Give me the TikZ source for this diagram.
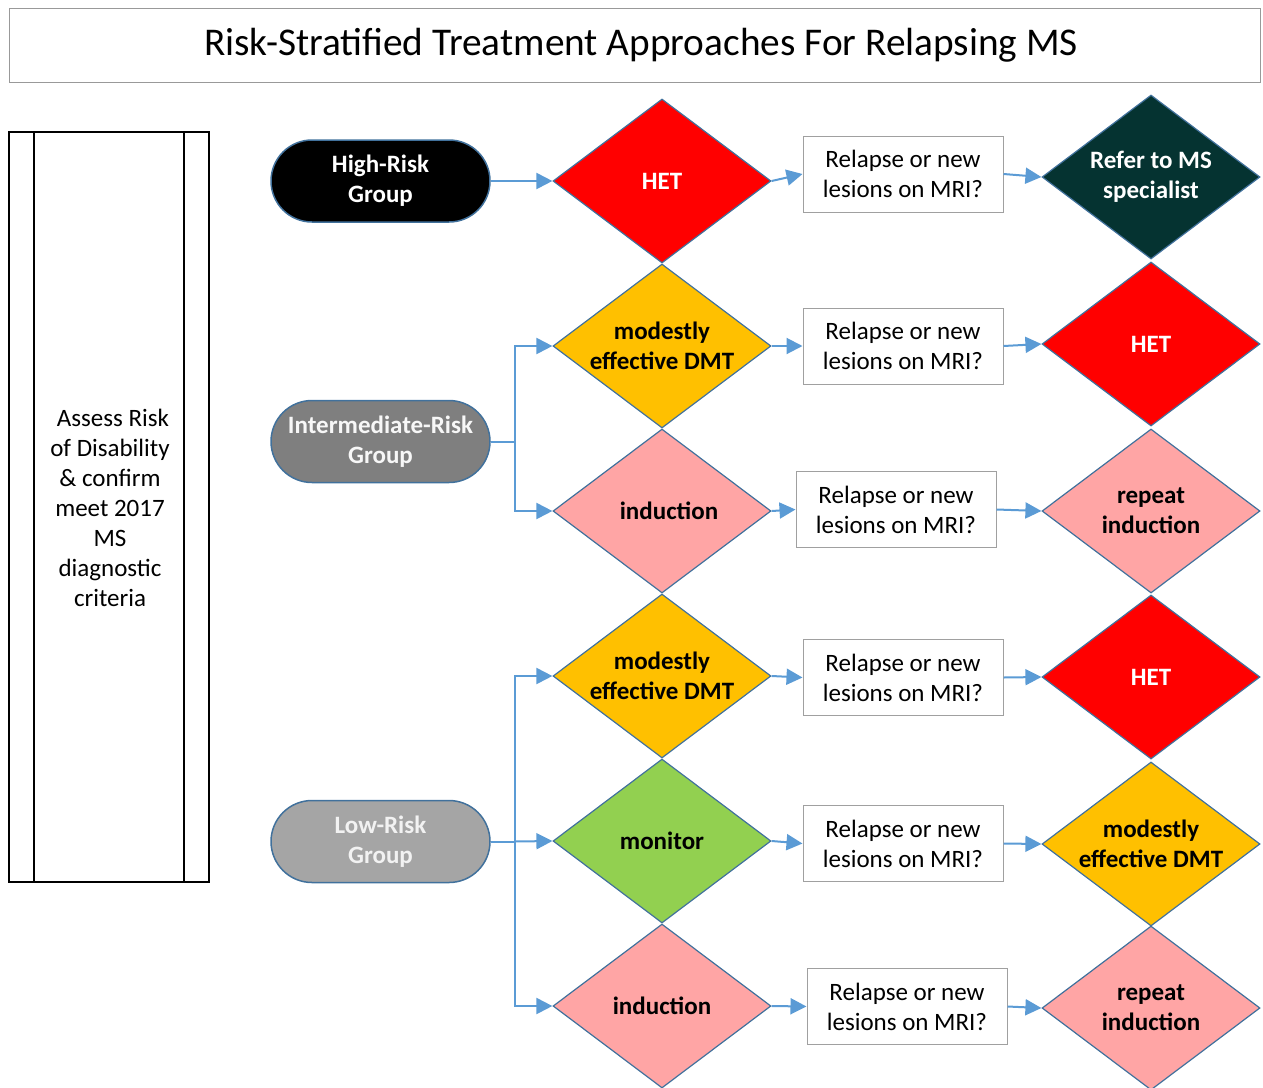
\documentclass[tikz,border=0pt]{standalone}
\usepackage{fontspec}
\setmainfont{Carlito}
\usetikzlibrary{shapes.geometric,arrows.meta}
\definecolor{arrblue}{HTML}{5B9BD5}
\definecolor{edgeblue}{HTML}{41719C}
\definecolor{hetred}{HTML}{FF0000}
\definecolor{dmtorange}{HTML}{FFC000}
\definecolor{indpink}{HTML}{FFA5A5}
\definecolor{mongreen}{HTML}{92D050}
\definecolor{refteal}{HTML}{053331}
\definecolor{midgray}{HTML}{7F7F7F}
\definecolor{lowgray}{HTML}{A5A5A5}
\definecolor{boxgray}{HTML}{A0A0A0}
\tikzset{
  txt/.style={font=\fontsize{25}{30}\selectfont, align=center},
  btxt/.style={font=\fontsize{25}{30}\selectfont\bfseries, align=center},
  dia/.style={shape=diamond, draw=edgeblue, line width=1.2pt, minimum width=218pt, minimum height=164pt, inner sep=0pt},
  term/.style={draw=edgeblue, line width=1.5pt, rounded corners=41pt, minimum width=219pt, minimum height=82pt, inner sep=0pt, btxt},
  qbox/.style={draw=boxgray, line width=1pt, fill=white, minimum width=200pt, minimum height=76pt, inner sep=0pt, txt},
  arr/.style={draw=arrblue, line width=2pt, -{Triangle[length=16pt,width=16pt]}},
  ln/.style={draw=arrblue, line width=2pt}
}
\begin{document}
\begin{tikzpicture}[x=1pt,y=1pt]
\useasboundingbox (0,0) rectangle (1263,-1087);
% title
\node[draw=gray!80, line width=1pt, minimum width=1251pt, minimum height=74pt, inner sep=0pt] (titlebox) at (634.5,-45) {};
\node[font=\fontsize{39.3}{42}\selectfont, inner sep=0pt] (title) at (641,-45) {Risk-Stratified Treatment Approaches For Relapsing MS};
% left box
\node[draw=black, line width=1.5pt, minimum width=200pt, minimum height=750pt, inner sep=0pt] (left) at (109,-507) {};
\draw[line width=1.5pt] (34,-132) -- (34,-882) (184,-132) -- (184,-882);
\node[txt] (lefttext) at (110,-508) {\hspace*{6pt}Assess Risk\\of Disability\\\& confirm\\meet 2017\\MS\\diagnostic\\criteria};
% groups
\node[term, fill=black, text=white] (HR) at (380.5,-181) {High-Risk\\Group};
\node[term, fill=midgray, text=white!97!black] (IR) at (380.5,-441.5) {Intermediate-Risk\\Group};
\node[term, fill=lowgray, text=white!95!black] (LR) at (380.5,-841.5) {Low-Risk\\Group};
% first column diamonds
\node[dia, fill=hetred] (d11) at (662,-181) {};
\node[btxt, text=white] (t11) at (d11) {HET};
\node[dia, fill=dmtorange] (d21) at (662,-346) {};
\node[btxt] (t21) at (d21) {modestly\\effective DMT};
\node[dia, fill=indpink] (d31) at (662,-511) {};
\node[btxt] (t31) at (669,-511) {induction};
\node[dia, fill=dmtorange] (d41) at (662,-676) {};
\node[btxt] (t41) at (d41) {modestly\\effective DMT};
\node[dia, fill=mongreen] (d51) at (662,-841) {};
\node[btxt] (t51) at (d51) {monitor};
\node[dia, fill=indpink] (d61) at (662,-1006) {};
\node[btxt] (t61) at (d61) {induction};
% boxes
\node[qbox] (b1) at (903,-174) {Relapse or new\\lesions on MRI?};
\node[qbox] (b2) at (903,-346) {Relapse or new\\lesions on MRI?};
\node[qbox] (b3) at (896,-509.5) {Relapse or new\\lesions on MRI?};
\node[qbox] (b4) at (903,-677.5) {Relapse or new\\lesions on MRI?};
\node[qbox] (b5) at (903,-843.5) {Relapse or new\\lesions on MRI?};
\node[qbox] (b6) at (907,-1006.5) {Relapse or new\\lesions on MRI?};
% third column diamonds
\node[dia, fill=refteal] (d13) at (1151,-177) {};
\node[btxt, text=white] (t13) at (d13) {Refer to MS\\specialist};
\node[dia, fill=hetred] (d23) at (1151,-344) {};
\node[btxt, text=white] (t23) at (d23) {HET};
\node[dia, fill=indpink] (d33) at (1151,-511) {};
\node[btxt] (t33) at (d33) {repeat\\induction};
\node[dia, fill=hetred] (d43) at (1151,-677) {};
\node[btxt, text=white] (t43) at (d43) {HET};
\node[dia, fill=dmtorange] (d53) at (1151,-844) {};
\node[btxt] (t53) at (d53) {modestly\\effective DMT};
\node[dia, fill=indpink] (d63) at (1151,-1008) {};
\node[btxt] (t63) at (d63) {repeat\\induction};
% connectors high risk
\draw[arr] (HR.east) -- (d11.west);
% intermediate
\coordinate (j2) at (515,-441.5);
\draw[ln] (IR.east) -- (j2);
\draw[arr] (j2) |- (d21.west);
\draw[arr] (j2) |- (d31.west);
% low
\coordinate (j3) at (515,-841.5);
\draw[ln] (LR.east) -- (j3);
\draw[arr] (j3) |- (d41.west);
\draw[arr] (j3) -- (d51.west);
\draw[arr] (j3) |- (d61.west);
% column 1 to boxes to column 3
\foreach \r in {1,...,6}{
  \draw[arr] (d\r1.east) -- (b\r.west);
  \draw[arr] (b\r.east) -- (d\r3.west);
}
\end{tikzpicture}
\end{document}
